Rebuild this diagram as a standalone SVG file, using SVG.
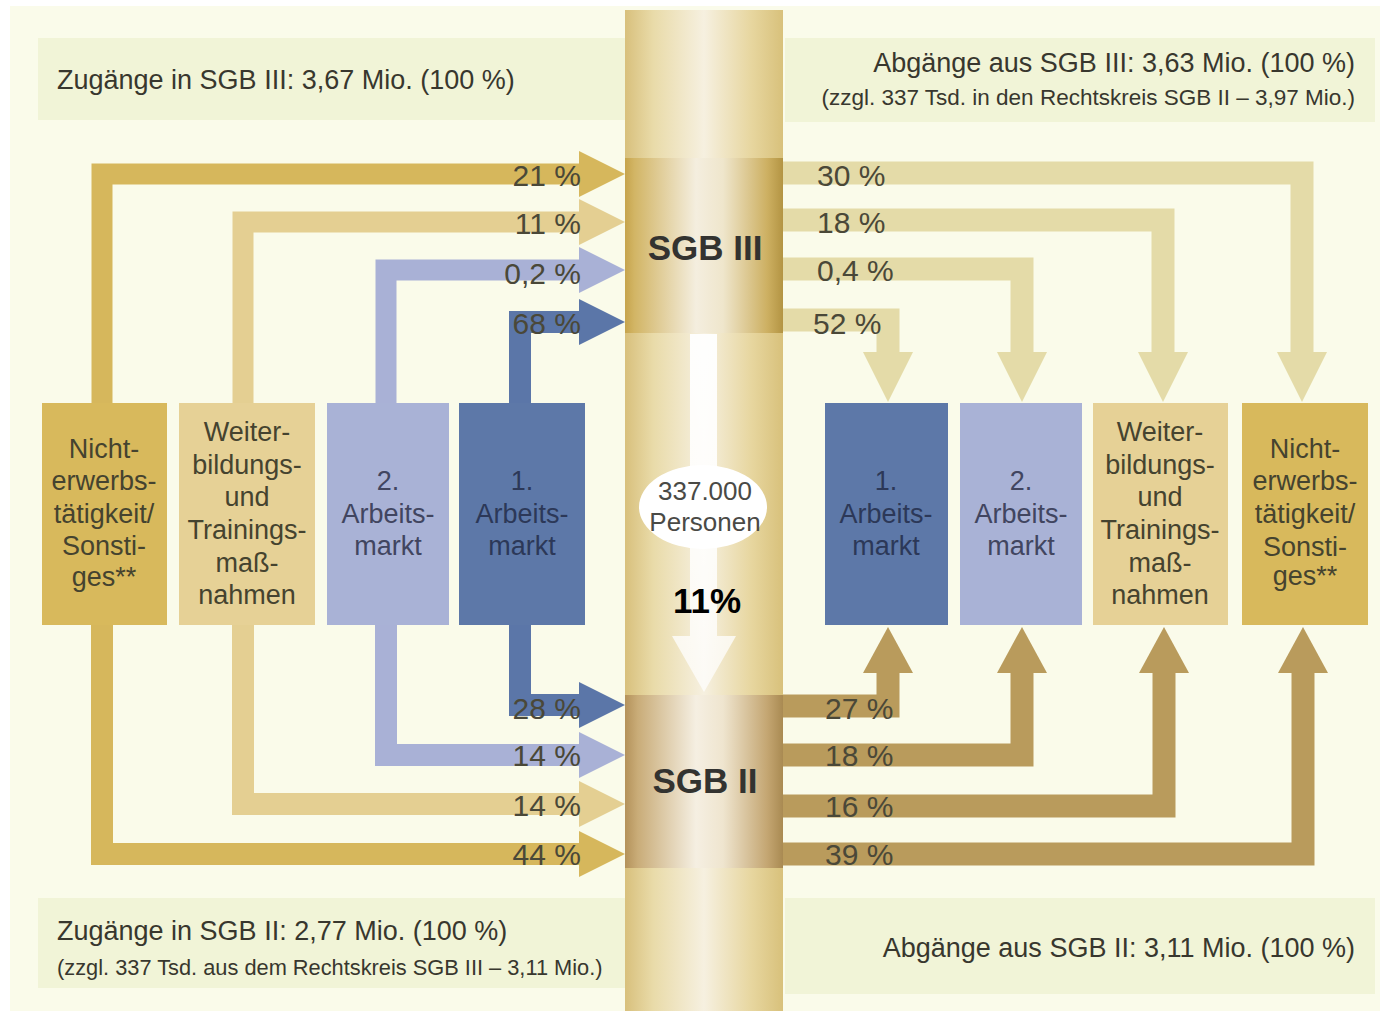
<svg xmlns="http://www.w3.org/2000/svg" width="1380" height="1011" viewBox="0 0 1380 1011">
<defs>
<style>
.hdr{font-family:"Liberation Sans",Arial,sans-serif;fill:#38372e}
.hdre{font-family:"Liberation Sans",Arial,sans-serif;fill:#38372e;text-anchor:end}
.bx{font-family:"Liberation Sans",Arial,sans-serif;font-size:27px;text-anchor:middle;fill:#45432f}
.bxb{font-family:"Liberation Sans",Arial,sans-serif;font-size:27px;text-anchor:middle;fill:#2c3858}
.bxl{font-family:"Liberation Sans",Arial,sans-serif;font-size:27px;text-anchor:middle;fill:#414560}
.pl{font-family:"Liberation Sans",Arial,sans-serif;font-size:30px;fill:#4a4838;text-anchor:end}
.pr{font-family:"Liberation Sans",Arial,sans-serif;font-size:30px;fill:#4a4838}
.sgb{font-family:"Liberation Sans",Arial,sans-serif;font-size:35px;font-weight:bold;fill:#333330;text-anchor:middle}
.con{fill:none;stroke-linejoin:miter}
</style>
<linearGradient id="gCol" x1="0" y1="0" x2="1" y2="0">
<stop offset="0" stop-color="#d8c07c"/>
<stop offset="0.18" stop-color="#e9dba9"/>
<stop offset="0.5" stop-color="#f6f0e0"/>
<stop offset="0.8" stop-color="#e7d69f"/>
<stop offset="1" stop-color="#d8c17b"/>
</linearGradient>
<linearGradient id="gS3" x1="0" y1="0" x2="1" y2="0">
<stop offset="0" stop-color="#c6a44c"/>
<stop offset="0.06" stop-color="#d2b565"/>
<stop offset="0.45" stop-color="#f4eedf"/>
<stop offset="0.62" stop-color="#efe6cc"/>
<stop offset="0.9" stop-color="#cdb062"/>
<stop offset="1" stop-color="#b39443"/>
</linearGradient>
<linearGradient id="gS2" x1="0" y1="0" x2="1" y2="0">
<stop offset="0" stop-color="#b4925a"/>
<stop offset="0.08" stop-color="#c9ac78"/>
<stop offset="0.45" stop-color="#f5efe2"/>
<stop offset="0.62" stop-color="#efe5cf"/>
<stop offset="0.9" stop-color="#c4a672"/>
<stop offset="1" stop-color="#a98a52"/>
</linearGradient>
<linearGradient id="gW" x1="0" y1="0" x2="0" y2="1">
<stop offset="0" stop-color="#ffffff" stop-opacity="0.95"/>
<stop offset="0.6" stop-color="#ffffff" stop-opacity="0.85"/>
<stop offset="1" stop-color="#ffffff" stop-opacity="0.7"/>
</linearGradient>
<marker id="mGold" markerUnits="userSpaceOnUse" viewBox="0 0 46 46" refX="0" refY="23" markerWidth="46" markerHeight="46" orient="auto"><path d="M0,0L46,23L0,46Z" fill="#d6b75c"/></marker>
<marker id="mLGold" markerUnits="userSpaceOnUse" viewBox="0 0 46 46" refX="0" refY="23" markerWidth="46" markerHeight="46" orient="auto"><path d="M0,0L46,23L0,46Z" fill="#e4cf92"/></marker>
<marker id="mLBlue" markerUnits="userSpaceOnUse" viewBox="0 0 46 46" refX="0" refY="23" markerWidth="46" markerHeight="46" orient="auto"><path d="M0,0L46,23L0,46Z" fill="#a9b1d6"/></marker>
<marker id="mDBlue" markerUnits="userSpaceOnUse" viewBox="0 0 46 46" refX="0" refY="23" markerWidth="46" markerHeight="46" orient="auto"><path d="M0,0L46,23L0,46Z" fill="#5b76a8"/></marker>
<marker id="mPale" markerUnits="userSpaceOnUse" viewBox="0 0 50 50" refX="0" refY="25" markerWidth="50" markerHeight="50" orient="auto"><path d="M0,0L50,25L0,50Z" fill="#e4dba8"/></marker>
<marker id="mTan" markerUnits="userSpaceOnUse" viewBox="0 0 46 50" refX="0" refY="25" markerWidth="46" markerHeight="50" orient="auto"><path d="M0,0L46,25L0,50Z" fill="#b99b5c"/></marker>
</defs>

<rect x="0" y="0" width="1380" height="1011" fill="#ffffff"/>
<rect x="10" y="6" width="1370" height="1005" fill="#fafbea"/>

<g id="headers">
<rect x="38" y="38" width="587" height="82" fill="#f1f4d7"/>
<rect x="785" y="38" width="590" height="84" fill="#f1f4d7"/>
<rect x="38" y="898" width="587" height="90" fill="#f1f4d7"/>
<rect x="785" y="898" width="590" height="96" fill="#f1f4d7"/>
<text class="hdr" x="57" y="89" font-size="27">Zugänge in SGB III: 3,67 Mio. (100 %)</text>
<text class="hdre" x="1355" y="72" font-size="27">Abgänge aus SGB III: 3,63 Mio. (100 %)</text>
<text class="hdre" x="1355" y="105" font-size="22.5">(zzgl. 337 Tsd. in den Rechtskreis SGB II – 3,97 Mio.)</text>
<text class="hdr" x="57" y="940" font-size="27">Zugänge in SGB II: 2,77 Mio. (100 %)</text>
<text class="hdr" x="57" y="975" font-size="21.8">(zzgl. 337 Tsd. aus dem Rechtskreis SGB III – 3,11 Mio.)</text>
<text class="hdre" x="1355" y="957" font-size="27">Abgänge aus SGB II: 3,11 Mio. (100 %)</text>
</g>

<g id="column">
<rect x="625" y="10" width="158" height="1001" fill="url(#gCol)"/>
</g>

<g id="connectors" class="con">
<path d="M102,403V174H579" stroke="#d6b75c" stroke-width="21" marker-end="url(#mGold)"/>
<path d="M243,403V222H579" stroke="#e4cf92" stroke-width="21" marker-end="url(#mLGold)"/>
<path d="M386,403V270H579" stroke="#a9b1d6" stroke-width="21" marker-end="url(#mLBlue)"/>
<path d="M520,403V322H579" stroke="#5b76a8" stroke-width="22" marker-end="url(#mDBlue)"/>
<path d="M520,625V705H579" stroke="#5b76a8" stroke-width="22" marker-end="url(#mDBlue)"/>
<path d="M386,625V755H579" stroke="#a9b1d6" stroke-width="22" marker-end="url(#mLBlue)"/>
<path d="M243,625V804H579" stroke="#e4cf92" stroke-width="22" marker-end="url(#mLGold)"/>
<path d="M102,625V854H579" stroke="#d6b75c" stroke-width="22" marker-end="url(#mGold)"/>
<path d="M783,173H1302V352" stroke="#e4dba8" stroke-width="23" marker-end="url(#mPale)"/>
<path d="M783,220H1163V352" stroke="#e4dba8" stroke-width="23" marker-end="url(#mPale)"/>
<path d="M783,269H1022V352" stroke="#e4dba8" stroke-width="23" marker-end="url(#mPale)"/>
<path d="M783,320H888V352" stroke="#e4dba8" stroke-width="23" marker-end="url(#mPale)"/>
<path d="M783,706H888V673" stroke="#b99b5c" stroke-width="23" marker-end="url(#mTan)"/>
<path d="M783,755H1022V673" stroke="#b99b5c" stroke-width="23" marker-end="url(#mTan)"/>
<path d="M783,806H1164V673" stroke="#b99b5c" stroke-width="23" marker-end="url(#mTan)"/>
<path d="M783,854H1303V673" stroke="#b99b5c" stroke-width="23" marker-end="url(#mTan)"/>
</g>

<g id="labels">
<text class="pl" x="581" y="186">21 %</text>
<text class="pl" x="581" y="234">11 %</text>
<text class="pl" x="581" y="284">0,2 %</text>
<text class="pl" x="581" y="334" fill="#3e4a6e">68 %</text>
<text class="pl" x="581" y="719" fill="#3e4a6e">28 %</text>
<text class="pl" x="581" y="766">14 %</text>
<text class="pl" x="581" y="816">14 %</text>
<text class="pl" x="581" y="865">44 %</text>
<text class="pr" x="817" y="186">30 %</text>
<text class="pr" x="817" y="233">18 %</text>
<text class="pr" x="817" y="281">0,4 %</text>
<text class="pr" x="813" y="334">52 %</text>
<text class="pr" x="825" y="719">27 %</text>
<text class="pr" x="825" y="766">18 %</text>
<text class="pr" x="825" y="817">16 %</text>
<text class="pr" x="825" y="865">39 %</text>
</g>

<g id="sgb3">
<rect x="625" y="158" width="158" height="175" fill="url(#gS3)"/>
<text class="sgb" x="705" y="260">SGB III</text>
</g>

<g id="sgb2">
<rect x="625" y="695" width="158" height="173" fill="url(#gS2)"/>
<text class="sgb" x="705" y="793">SGB II</text>
</g>

<g id="transfer">
<path d="M690,334H717V636H736L704,692L672,636H690Z" fill="url(#gW)"/>
<ellipse cx="703" cy="507" rx="64" ry="42" fill="#ffffff"/>
<text font-family="Liberation Sans,Arial,sans-serif" font-size="26" fill="#4a4a46" text-anchor="middle" x="705" y="500">337.000</text>
<text font-family="Liberation Sans,Arial,sans-serif" font-size="26" fill="#4a4a46" text-anchor="middle" x="705" y="531">Personen</text>
<text font-family="Liberation Sans,Arial,sans-serif" font-size="35" font-weight="bold" fill="#000000" text-anchor="middle" x="707" y="613">11%</text>
</g>

<g id="l-nicht">
<rect x="42" y="403" width="125" height="222" fill="#d8b95c"/>
<text class="bx" x="104" y="458">Nicht-</text>
<text class="bx" x="104" y="490">erwerbs-</text>
<text class="bx" x="104" y="523">tätigkeit/</text>
<text class="bx" x="104" y="555">Sonsti-</text>
<text class="bx" x="104" y="586">ges**</text>
</g>
<g id="l-weiter">
<rect x="179" y="403" width="136" height="222" fill="#e6d196"/>
<text class="bx" x="247" y="441">Weiter-</text>
<text class="bx" x="247" y="474">bildungs-</text>
<text class="bx" x="247" y="506">und</text>
<text class="bx" x="247" y="539">Trainings-</text>
<text class="bx" x="247" y="572">maß-</text>
<text class="bx" x="247" y="604">nahmen</text>
</g>
<g id="l-am2">
<rect x="327" y="403" width="122" height="222" fill="#a9b2d6"/>
<text class="bxl" x="388" y="490">2.</text>
<text class="bxl" x="388" y="523">Arbeits-</text>
<text class="bxl" x="388" y="555">markt</text>
</g>
<g id="l-am1">
<rect x="459" y="403" width="126" height="222" fill="#5d78a8"/>
<text class="bxb" x="522" y="490">1.</text>
<text class="bxb" x="522" y="523">Arbeits-</text>
<text class="bxb" x="522" y="555">markt</text>
</g>

<g id="r-am1">
<rect x="825" y="403" width="123" height="222" fill="#5d78a8"/>
<text class="bxb" x="886" y="490">1.</text>
<text class="bxb" x="886" y="523">Arbeits-</text>
<text class="bxb" x="886" y="555">markt</text>
</g>
<g id="r-am2">
<rect x="960" y="403" width="122" height="222" fill="#a9b2d6"/>
<text class="bxl" x="1021" y="490">2.</text>
<text class="bxl" x="1021" y="523">Arbeits-</text>
<text class="bxl" x="1021" y="555">markt</text>
</g>
<g id="r-weiter">
<rect x="1093" y="403" width="135" height="222" fill="#e6d196"/>
<text class="bx" x="1160" y="441">Weiter-</text>
<text class="bx" x="1160" y="474">bildungs-</text>
<text class="bx" x="1160" y="506">und</text>
<text class="bx" x="1160" y="539">Trainings-</text>
<text class="bx" x="1160" y="572">maß-</text>
<text class="bx" x="1160" y="604">nahmen</text>
</g>
<g id="r-nicht">
<rect x="1242" y="403" width="126" height="222" fill="#d8b95c"/>
<text class="bx" x="1305" y="458">Nicht-</text>
<text class="bx" x="1305" y="490">erwerbs-</text>
<text class="bx" x="1305" y="523">tätigkeit/</text>
<text class="bx" x="1305" y="556">Sonsti-</text>
<text class="bx" x="1305" y="585">ges**</text>
</g>
</svg>
